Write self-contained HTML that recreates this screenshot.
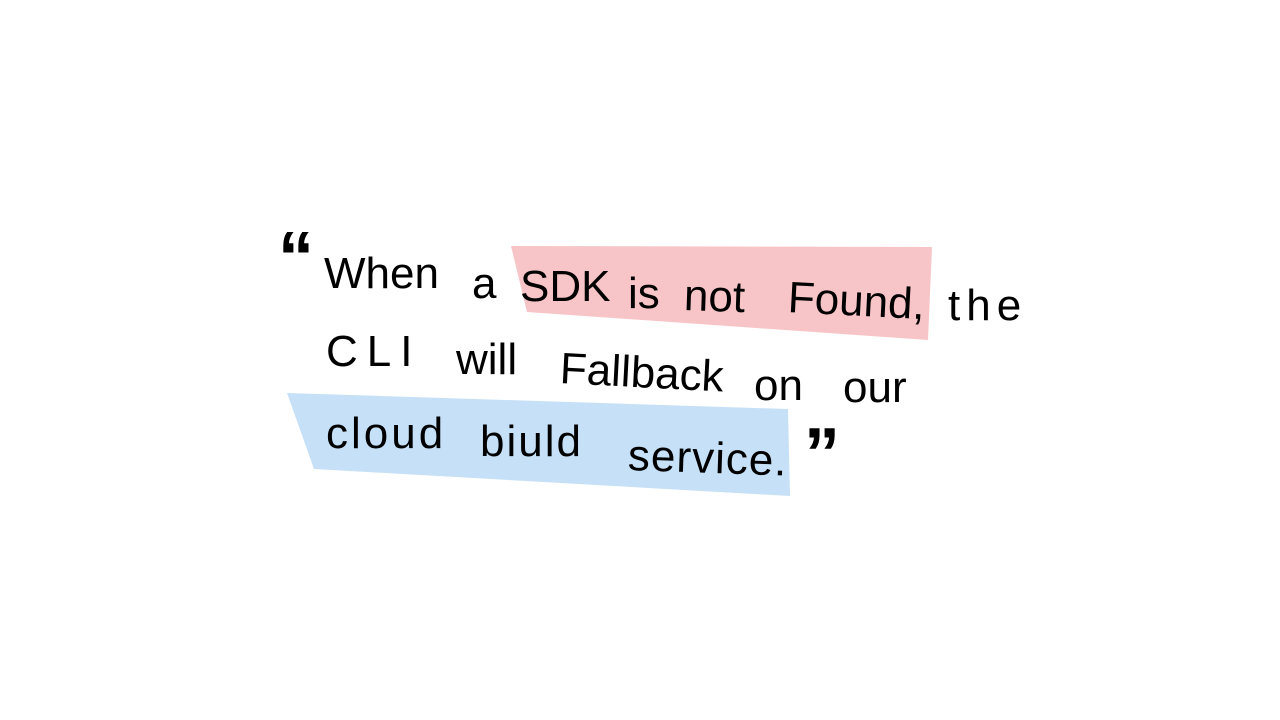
<!DOCTYPE html>
<html><head><meta charset="utf-8"><style>
html,body{margin:0;padding:0;background:#fff;}
#c{position:relative;width:1280px;height:720px;overflow:hidden;background:#fff;}
.w{position:absolute;font-family:"Liberation Sans",sans-serif;font-size:44px;color:#000;line-height:1;white-space:nowrap;transform-origin:left center;}
.q{font-size:72px;font-weight:bold;}
svg{position:absolute;left:0;top:0;}
</style></head><body><div id="c">
<svg width="1280" height="720">
<polygon points="511,246 932,247 928,340 527,312" fill="#f7c5c7"/>
<polygon points="287,393 788,409 790,496 314,469" fill="#c6e1f7"/>
</svg>
<span class="w q" style="left:278px;top:222px;">“</span>
<span class="w" style="left:324px;top:252px;">When</span>
<span class="w" style="left:472px;top:262px;">a</span>
<span class="w" style="left:520px;top:265px;">SDK</span>
<span class="w" style="left:628px;top:272px;">is</span>
<span class="w" style="left:684px;top:274px;transform:rotate(2deg)">not</span>
<span class="w" style="left:788px;top:276px;transform:rotate(3deg)">Found,</span>
<span class="w" style="left:948px;top:284px;letter-spacing:6px">the</span>
<span class="w" style="left:326px;top:330px;letter-spacing:9px">CLI</span>
<span class="w" style="left:456px;top:338px;">will</span>
<span class="w" style="left:560px;top:347px;transform:rotate(3deg)">Fallback</span>
<span class="w" style="left:754px;top:364px;">on</span>
<span class="w" style="left:843px;top:366px;">our</span>
<span class="w" style="left:326px;top:412px;letter-spacing:3px">cloud</span>
<span class="w" style="left:480px;top:420px;letter-spacing:2px">biuld</span>
<span class="w" style="left:628px;top:434px;transform:rotate(2deg);letter-spacing:1px">service.</span>
<span class="w q" style="left:804px;top:418px;">”</span>
</div></body></html>
